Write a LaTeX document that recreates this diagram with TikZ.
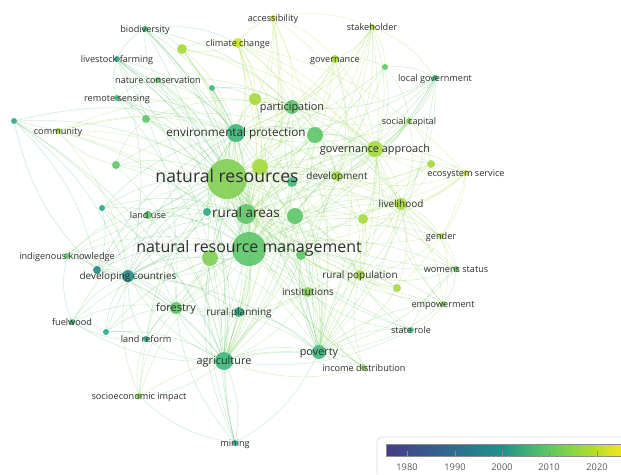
\documentclass[tikz,border=0pt]{standalone}
\usepackage{fontspec}
\setmainfont{Open Sans}
\usepackage{tikz}
\pgfdeclarelayer{bg}
\pgfdeclarelayer{fg}
\pgfsetlayers{bg,main,fg}
\definecolor{vA}{HTML}{1F8A87}
\definecolor{vB}{HTML}{29A98A}
\definecolor{vC}{HTML}{3DB67A}
\definecolor{vD}{HTML}{5CC567}
\definecolor{vE}{HTML}{82CF54}
\definecolor{vF}{HTML}{A5DA3C}
\definecolor{vG}{HTML}{CCE12A}
\definecolor{cb0}{HTML}{433D86}
\definecolor{cb1}{HTML}{3E4C8A}
\definecolor{cb2}{HTML}{2F6E8E}
\definecolor{cb3}{HTML}{22908C}
\definecolor{cb4}{HTML}{5EC962}
\definecolor{cb5}{HTML}{BBDF27}
\definecolor{cb6}{HTML}{F2E51D}
% tikz maps 25bp--75bp of the shading onto the path
\pgfdeclarehorizontalshading{viridisbar}{100bp}{color(0bp)=(cb0); color(25bp)=(cb0); color(29.45bp)=(cb1); color(39.7bp)=(cb2); color(49.7bp)=(cb3); color(59.7bp)=(cb4); color(69.9bp)=(cb5); color(75bp)=(cb6); color(100bp)=(cb6)}
\tikzstyle{kw}=[circle,draw=none,inner sep=0pt,fill opacity=0.9]
\tikzstyle{link}=[line width=0.5pt,draw opacity=0.28]
\tikzstyle{lbl}=[text=black!82,inner sep=0pt,text height=1.5ex,text depth=0.3ex,font=\fontsize{7.8}{9}\selectfont]
\tikzstyle{lblA}=[lbl,font=\fontsize{15}{17}\selectfont]
\tikzstyle{lblB}=[lbl,font=\fontsize{13.6}{15}\selectfont]
\tikzstyle{lblC}=[lbl,font=\fontsize{11.5}{13}\selectfont]
\tikzstyle{lblD}=[lbl,font=\fontsize{10}{12}\selectfont]
\tikzstyle{lblE}=[lbl,font=\fontsize{9.3}{11}\selectfont]
\tikzstyle{lblF}=[lbl,font=\fontsize{8.5}{10}\selectfont]
\tikzstyle{year}=[text=black!65,inner sep=0pt,font=\fontsize{7.9}{9}\selectfont]

\begin{document}
\begin{tikzpicture}[x=0.03cm,y=-0.03cm]
    \useasboundingbox (0,0) rectangle (621,474);
    % keywords
    \foreach \n/\x/\y/\r/\c in {nr/227/179/20/vE, nrm/249/249/17/vD, ra/246/214/10/vD,
        ep/236/133/9/vC, part/292/107/7/vD, ga/375/149/8/vF, dev/337/176/5/vF,
        lh/401/204/6/vF, es/466/173/3/vG, gen/441/236/3/vF, ws/456/269/3/vD,
        rp/360/275/5/vF, inst/308/292/5/vE, emp/443/304/3/vE, sr/411/330/3/vC,
        pov/319/352/7/vC, inc/364/368/3/vE, agr/224/361/9/vC, rpl/239/312/5/vB,
        for/176/308/6/vD, min/235/443/3/vB, sei/139/396/3/vE, lr/146/339/3/vB,
        fw/72/322/3/vC, dc/128/276/6/vA, ik/67/256/3/vD, lu/148/215/4/vD,
        com/58/131/3/vF, rs/117/98/3/vC, nc/158/80/3/vD, lf/117/59/3/vB,
        bio/145/29/3/vC, cc/238/43/5/vG, acc/273/18/3/vG, sh/372/27/3/vF,
        gov/335/59/4/vF, lg/435/78/3/vC, sc/409/121/3/vE,
        u1/14/121/3/vB, u2/182/49/5/vF, u3/212/88/3/vC, u4/255/99/6/vF,
        u5/146/119/4/vD, u6/116/165/4/vD, u7/102/208/3/vB, u8/207/212/4/vB,
        u9/260/167/8/vF, u10/292/182/5/vC, u11/315/135/8/vD, u12/295/216/8/vD,
        u13/363/219/5/vF, u14/210/258/8/vE, u15/301/255/5/vD, u16/397/288/4/vF,
        u17/431/164/4/vF, u18/385/67/3/vD, u19/97/270/4/vA, u20/106/332/3/vB}
        \node[kw,fill=\c,minimum size=\r*0.06cm] (\n) at (\x,\y) {};
    % labels
    \begin{pgfonlayer}{fg}
    \foreach \n/\t/\s in {nr/natural resources/lblA, nrm/natural resource management/lblB,
        ra/rural areas/lblC, ep/environmental protection/lblD,
        ga/governance approach/lblE, part/participation/lblE, agr/agriculture/lblE,
        for/forestry/lblE, pov/poverty/lblE, dev/development/lblF, lh/livelihood/lblF,
        rpl/rural planning/lblF, rp/rural population/lblF, inst/institutions/lblF,
        dc/developing countries/lblF, es/ecosystem service/lbl, gen/gender/lbl,
        ws/womens status/lbl, emp/empowerment/lbl, sr/state role/lbl,
        inc/income distribution/lbl, min/mining/lbl, sei/socioeconomic impact/lbl,
        lr/land reform/lbl, fw/fuelwood/lbl, ik/indigenous knowledge/lbl,
        lu/land use/lbl, com/community/lbl, rs/remote sensing/lbl,
        nc/nature conservation/lbl, lf/livestock farming/lbl, bio/biodiversity/lbl,
        cc/climate change/lbl, acc/accessibility/lbl, sh/stakeholder/lbl,
        gov/governance/lbl, lg/local government/lbl, sc/social capital/lbl}
        \node[\s] (t-\n) at (\n) {\t};
    \end{pgfonlayer}
    % co-occurrence links
    \begin{pgfonlayer}{bg}
    \foreach \a/\c/\t in {
        nr/vE/{nrm,ra,ep,part,ga,dev,lh,agr,pov,for,rpl,dc,lu,u9,u10,u11,u12,u14,u15,inst,rp,u13,u4,gen,es},
        nrm/vD/{ra,ep,part,ga,dev,lh,agr,pov,for,rpl,dc,u9,u10,u11,u12,u14,u15,inst,rp,u16,gen,ws,emp,sr,inc,u13},
        ra/vD/{ep,part,ga,agr,pov,for,rpl,dev,lh,u12,u14,rp,inst,u9,u11},
        ep/vC/{part,ga,u11,u9,agr,pov,dev,u4,u3,for,lu,u10},
        agr/vC/{pov,for,rpl,inst,dc,lr,min,sei,fw,inc,u14},
        pov/vC/{inst,rp,inc,sr,lh,emp,u15,min,dev},
        u9/vF/{ga,part,dev,lh,u12,agr,pov,rp},
        u12/vD/{ga,lh,dev,agr,pov,rp,inst,u13},
        u14/vE/{agr,pov,for,rpl,inst,dc,ep},
        u10/vC/{ga,dev,part,agr,pov},
        u15/vD/{pov,agr,lh,ga},
        u13/vF/{lh,rp,pov,gen,ws},
        min/vB/{nrm,nr,ra,for,rpl,sei,u14},
        sei/vE/{nrm,nr,for,lr,dc,pov},
        lr/vB/{nrm,nr,dc,for,fw},
        fw/vC/{dc,nrm,nr,for,ik,u20},
        u20/vB/{dc,nrm,agr,nr,for,lr},
        ik/vD/{dc,nrm,nr,ra,u19,agr,lu},
        u19/vA/{dc,nrm,nr,ra,ep,agr,for,u1},
        dc/vA/{nrm,nr,ra,ep,for,rpl,pov,u14},
        lu/vD/{nrm,ra,agr,for,u8},
        u7/vB/{nr,nrm,ra,ep,agr,u19,dc},
        u6/vD/{nr,nrm,ep,ra,agr,com,u5},
        com/vF/{nr,nrm,ep,u1,ga,part,dc,ra},
        u1/vB/{nr,nrm,ep,dc,agr,for,u19},
        rs/vC/{nr,nrm,ep,ra,lf,nc,u5,agr},
        u5/vD/{nr,nrm,ep,ra,part},
        nc/vD/{nr,nrm,ep,ra,bio,lf,part,agr},
        lf/vB/{nr,nrm,ep,ra,bio,agr,dc,pov,for},
        bio/vC/{nr,nrm,ep,u2,cc,ra,part,agr,pov},
        u2/vF/{nr,nrm,ep,cc,part,ga,ra},
        cc/vG/{nr,nrm,ep,part,ga,u4,acc,dev,lh,u2,ra,es,agr,pov},
        acc/vG/{nr,nrm,ep,gov,sh,ga,part,ra,agr,pov},
        u3/vC/{nr,nrm,ra,part,u4},
        u4/vF/{nrm,part,ga,ra,u11},
        sh/vF/{nr,nrm,ga,gov,u18,lg,part,ep,dev,ra,pov,agr},
        gov/vF/{nr,nrm,ga,part,ep,u18,dev,ra,pov},
        u18/vD/{nr,nrm,ga,lg,sc,ep},
        lg/vC/{nr,nrm,ga,sc,part,ep,dev,lh,ra,pov},
        sc/vE/{nr,nrm,ga,dev,lh,part,ep,ra,u17},
        part/vD/{ga,u11,dev,lh,u9,u4,agr,pov},
        u11/vD/{ga,dev,lh,u9,ra,agr},
        ga/vF/{dev,lh,u17,es,u13,rp,pov,u12},
        u17/vF/{nr,nrm,lh,es,dev,ra},
        es/vG/{nrm,lh,ga,dev,ra,u13,u16,gen},
        dev/vF/{lh,u13,rp,u12},
        lh/vF/{rp,gen,ws,emp,u16,inst,pov},
        gen/vF/{ws,emp,ra,rp,ga},
        ws/vD/{nr,emp,lh,rp,ra,pov},
        emp/vE/{nr,lh,sr,rp,ra,ga,pov},
        sr/vC/{nr,ra,agr,inst,rp,ws},
        inc/vE/{nr,ra,agr,inst,rp},
        rp/vF/{inst,u16,u15},
        u16/vF/{nr,ra,pov},
        inst/vE/{u15,rpl,agr,for},
        rpl/vB/{for,pov},
        for/vD/{pov,dc},
        u8/vB/{nr,nrm,ra,ep,agr,dc}}
        \foreach \b in \t
            \path[link,draw=\c!55!vE] (\a) to[bend left=16] (\b);
    \end{pgfonlayer}
    % overlay colour scale
    \begin{pgfonlayer}{fg}
    \draw[black!15,line width=0.6pt,rounded corners=5] (621,437) -- (377,437) -- (377,474);
    \shade[shading=viridisbar] (386,444) rectangle (621,456);
    \draw[black!45,line width=0.5pt] (621,444) -- (386,444) -- (386,456) -- (621,456);
    \foreach \x/\yr in {407/1980,455/1990,502/2000,549/2010,597/2020} {
        \draw[black!45,line width=0.5pt] (\x,451) -- (\x,457);
        \node[year] (y\yr) at (\x,467) {\yr};
    }
    \end{pgfonlayer}
\end{tikzpicture}
\end{document}
